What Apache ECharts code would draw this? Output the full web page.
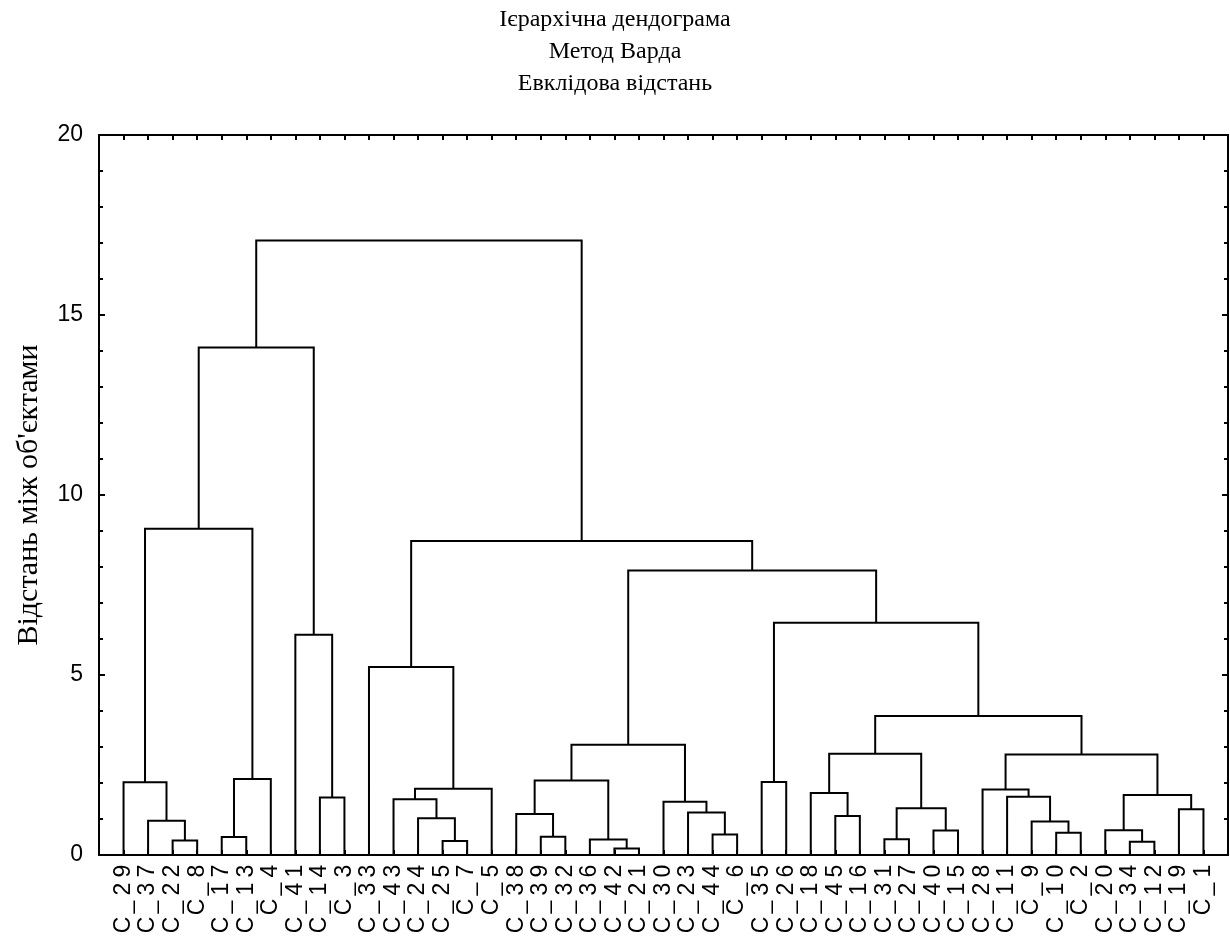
<!DOCTYPE html>
<html>
<head>
<meta charset="utf-8">
<script src="https://cdn.jsdelivr.net/npm/echarts@6/dist/echarts.min.js"></script>
<style>
  html, body { margin: 0; padding: 0; background: #fff; }
  #chart { width: 1230px; height: 939px; }
</style>
</head>
<body>
<div id="chart"></div>
<script>
// Leaf order along the horizontal axis (left to right)
const leaves = [
  'C_29','C_37','C_22','C_8','C_17','C_13','C_4','C_41','C_14','C_3',
  'C_33','C_43','C_24','C_25','C_7','C_5','C_38','C_39','C_32','C_36',
  'C_42','C_21','C_30','C_23','C_44','C_6','C_35','C_26','C_18','C_45',
  'C_16','C_31','C_27','C_40','C_15','C_28','C_11','C_9','C_10','C_2',
  'C_20','C_34','C_12','C_19','C_1'
];

// Linkage steps: [child A, child B, linkage distance].
// Children 0..44 are leaves; 45 + k is the cluster formed at step k.
const merges = [
  [20, 21, 0.18], [2, 3, 0.40], [13, 14, 0.39], [41, 42, 0.37],
  [19, 45, 0.43], [31, 32, 0.44], [4, 5, 0.50], [17, 18, 0.51],
  [24, 25, 0.57], [38, 39, 0.62], [33, 34, 0.68], [40, 48, 0.69],
  [37, 54, 0.93], [1, 46, 0.95], [12, 47, 1.02], [29, 30, 1.08],
  [16, 52, 1.14], [23, 53, 1.18], [43, 44, 1.27], [50, 55, 1.30],
  [22, 62, 1.48], [11, 59, 1.55], [8, 9, 1.60], [36, 57, 1.62],
  [56, 63, 1.67], [28, 60, 1.72], [35, 68, 1.82], [66, 15, 1.84],
  [0, 58, 2.02], [26, 27, 2.03], [61, 49, 2.07], [51, 6, 2.11],
  [71, 69, 2.79], [70, 64, 2.81], [75, 65, 3.06], [78, 77, 3.86],
  [10, 72, 5.22], [7, 67, 6.12], [74, 80, 6.45], [79, 83, 7.90],
  [81, 84, 8.72], [73, 76, 9.06], [86, 82, 14.10], [87, 85, 17.07]
];

const titleLines = ['Ієрархічна дендограма', 'Метод Варда', 'Евклідова відстань'];
const yAxisTitle = "Відстань між об'єктами";

// Horizontal position of each node: leaves sit at 1..n, clusters at the mean of their children
const n = leaves.length;
const nodeX = leaves.map((_, i) => i + 1);
const nodeH = leaves.map(() => 0);
merges.forEach(([a, b, h]) => {
  nodeX.push((nodeX[a] + nodeX[b]) / 2);
  nodeH.push(h);
});

const sans = "'Liberation Sans', Arial, sans-serif";
const serif = "'Liberation Serif', 'Times New Roman', serif";

const frameLine = { onZero: false, lineStyle: { color: '#000', width: 2 } };
const tickStyle = { color: '#000', width: 2 };

const chart = echarts.init(document.getElementById('chart'), null, { renderer: 'canvas' });

chart.setOption({
  animation: false,
  backgroundColor: '#fff',
  title: {
    text: titleLines.join('\n'),
    left: 'center',
    top: -1,
    textStyle: { fontFamily: serif, fontSize: 24, fontWeight: 'normal', color: '#000', lineHeight: 32 }
  },
  grid: { left: 99, right: 2, top: 135, bottom: 84 },
  xAxis: [
    {
      type: 'value', min: 0, max: n + 1, interval: 1,
      position: 'bottom',
      splitLine: { show: false },
      axisLine: frameLine,
      axisTick: { inside: true, length: 5, lineStyle: tickStyle },
      axisLabel: {
        rotate: 90, margin: 7, showMinLabel: true, showMaxLabel: true,
        formatter: v => {
          const name = leaves[v - 1];
          if (!name) return '';
          return name.split('').map(c => '{g|' + c + '}').join('');
        },
        rich: { g: { width: 18, align: 'center', fontFamily: sans, fontSize: 23, color: '#000' } }
      }
    },
    {
      type: 'value', min: 0, max: n + 1, interval: 1,
      position: 'top',
      splitLine: { show: false },
      axisLine: frameLine,
      axisTick: { inside: true, length: 5, lineStyle: tickStyle },
      axisLabel: { show: false }
    }
  ],
  yAxis: [
    {
      type: 'value', min: 0, max: 20, interval: 5,
      position: 'left',
      name: yAxisTitle,
      nameLocation: 'middle',
      nameGap: 55,
      nameTextStyle: { fontFamily: serif, fontSize: 30, color: '#000' },
      splitLine: { show: false },
      axisLine: Object.assign({ show: true }, frameLine),
      axisTick: { show: true, inside: true, length: 6, lineStyle: tickStyle },
      minorTick: { show: true, splitNumber: 5, length: 4, lineStyle: tickStyle },
      axisLabel: { margin: 16, fontFamily: sans, fontSize: 23, color: '#000' }
    },
    {
      type: 'value', min: 0, max: 20, interval: 5,
      position: 'right',
      splitLine: { show: false },
      axisLine: Object.assign({ show: true }, frameLine),
      axisTick: { show: true, inside: true, length: 6, lineStyle: tickStyle },
      minorTick: { show: true, splitNumber: 5, length: 4, lineStyle: tickStyle },
      axisLabel: { show: false }
    }
  ],
  series: [{
    type: 'custom',
    xAxisIndex: 0,
    yAxisIndex: 0,
    clip: false,
    data: merges.map((m, k) => [nodeX[n + k], m[2]]),
    renderItem: (params, api) => {
      const [a, b, h] = merges[params.dataIndex];
      const pts = [
        api.coord([nodeX[a], nodeH[a]]),
        api.coord([nodeX[a], h]),
        api.coord([nodeX[b], h]),
        api.coord([nodeX[b], nodeH[b]])
      ];
      return {
        type: 'polyline',
        shape: { points: pts },
        style: { stroke: '#000', lineWidth: 2, fill: null }
      };
    }
  }]
});
</script>
</body>
</html>
